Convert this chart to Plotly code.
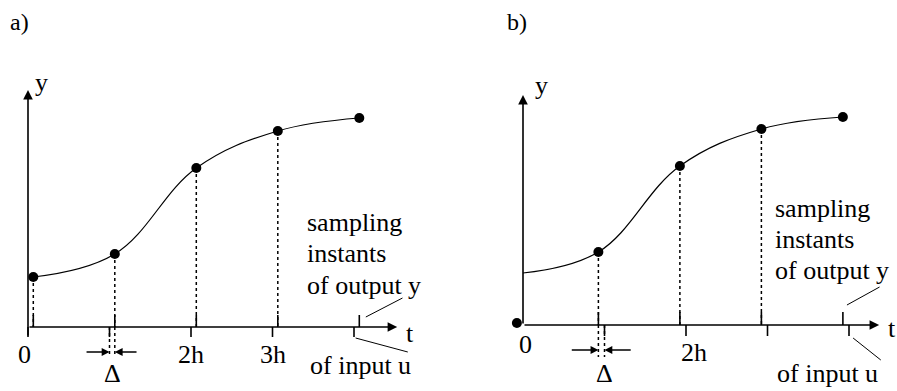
import plotly.graph_objects as go

# sampling instants of the input u, in units of h
t_input = [0, 1, 2, 3, 4]
# output sampled a little after (a) or a little before (b) the input
delta_a = 0.065
delta_b = -0.075
# sampled output values
y_a = [0.50, 0.73, 1.59, 1.96, 2.09]
y_b = [0.73, 1.59, 1.96, 2.08]
y_b_start = 0.52  # value of y at t = 0 in case b (curve start, no sample)
y_b_origin = 0.02  # sample taken at t = -delta, on the axis
tick_labels_a = ["0", "", "2h", "3h", ""]
tick_labels_b = ["0", "", "2h", "", ""]

t_out_a = [t + delta_a for t in t_input]
t_out_b = [t + delta_b for t in t_input[1:]]

W, H = 897, 391
SX = 81.5   # px per h
SY = 100.0  # px per unit of y
FONT = "Liberation Serif"
FS = 26

fig = go.Figure()

# curves and samples
fig.add_trace(go.Scatter(x=t_out_a, y=y_a, mode="lines", line=dict(color="black", width=1.2, shape="spline", smoothing=1.1),
                         xaxis="x", yaxis="y", hoverinfo="skip"))
fig.add_trace(go.Scatter(x=t_out_a, y=y_a, mode="markers", marker=dict(color="black", size=10),
                         xaxis="x", yaxis="y", hoverinfo="skip"))
fig.add_trace(go.Scatter(x=[0] + t_out_b, y=[y_b_start] + y_b, mode="lines",
                         line=dict(color="black", width=1.2, shape="spline", smoothing=1.1),
                         xaxis="x2", yaxis="y2", hoverinfo="skip"))
fig.add_trace(go.Scatter(x=[delta_b] + t_out_b, y=[y_b_origin] + y_b, mode="markers",
                         marker=dict(color="black", size=10),
                         xaxis="x2", yaxis="y2", hoverinfo="skip"))

shapes = []
ann = []


def line(xr, yr, x0, y0, x1, y1, dash="solid", width=1.6):
    shapes.append(dict(type="line", xref=xr, yref=yr, x0=x0, y0=y0, x1=x1, y1=y1,
                       line=dict(color="black", width=width, dash=dash)))


def arrow(xr, yr, x0, y0, x1, y1, width=1.6, size=1.2):
    ann.append(dict(xref=xr, yref=yr, axref=xr, ayref=yr, ax=x0, ay=y0, x=x1, y=y1, text="",
                    showarrow=True, arrowhead=2, arrowsize=size, arrowwidth=width, arrowcolor="black"))


def text(xr, yr, x, y, s, anchor="center"):
    ann.append(dict(xref=xr, yref=yr, x=x, y=y, text=s, showarrow=False, xanchor=anchor, yanchor="middle",
                    font=dict(family=FONT, size=FS, color="black")))


# ---- panel a ----
arrow("x", "y", 0, -0.10, 0, 2.37)          # y axis
arrow("x", "y", 0, 0, 4.53, 0)              # t axis
for t in t_out_a:
    line("x", "y", t, 0, t, 0.12)           # output instants
for t in t_input:
    line("x", "y", t, 0, t, -0.10)          # input instants
for t, v in zip(t_out_a[:4], y_a[:4]):
    line("x", "y", t, v, t, 0, dash="dot", width=1.5)
line("x", "y", t_input[1], 0, t_input[1], -0.30, dash="dot", width=1.5)
line("x", "y", t_out_a[1], 0, t_out_a[1], -0.30, dash="dot", width=1.5)
arrow("x", "y", 0.70, -0.25, t_input[1], -0.25, width=1.3, size=1.2)
arrow("x", "y", 1.35, -0.25, t_out_a[1], -0.25, width=1.3, size=1.2)
text("x", "y", 1.04, -0.46, "Δ")
for t, s in zip(t_input, tick_labels_a):
    if s:
        text("x", "y", t - 0.04 if t == 0 else t, -0.27, s)
text("x", "y", 4.69, -0.06, "t")
text("x", "y", 0.17, 2.45, "y")
for i, s in enumerate(["sampling", "instants", "of output y"]):
    text("x", "y", 3.40, 1.05 - 0.315 * i, s, anchor="left")
text("x", "y", 3.44, -0.38, "of input u", anchor="left")
line("x", "y", t_out_a[4] + 0.08, 0.10, t_out_a[4] + 0.53, 0.29, width=1)
line("x", "y", t_input[4] + 0.02, -0.11, t_input[4] + 0.66, -0.25, width=1)

# ---- panel b ----
arrow("x2", "y2", 0, 0, 0, 2.30)
arrow("x2", "y2", 0, 0, 4.37, 0)
for t in t_out_b:
    line("x2", "y2", t, 0, t, 0.13)
for t in t_input[1:]:
    line("x2", "y2", t, 0, t, -0.11)
for t, v in zip(t_out_b[:3], y_b[:3]):
    line("x2", "y2", t, v, t, 0, dash="dot", width=1.5)
line("x2", "y2", t_out_b[0], 0, t_out_b[0], -0.32, dash="dot", width=1.5)
line("x2", "y2", t_input[1], 0, t_input[1], -0.32, dash="dot", width=1.5)
arrow("x2", "y2", 0.58, -0.25, t_out_b[0], -0.25, width=1.3, size=1.2)
arrow("x2", "y2", 1.34, -0.25, t_input[1], -0.25, width=1.3, size=1.2)
text("x2", "y2", 1.0, -0.48, "Δ")
text("x2", "y2", 0.03, -0.19, tick_labels_b[0])
text("x2", "y2", 2.1, -0.27, tick_labels_b[2])
text("x2", "y2", 4.53, -0.03, "t")
text("x2", "y2", 0.23, 2.40, "y")
for i, s in enumerate(["sampling", "instants", "of output y"]):
    text("x2", "y2", 3.07, 1.17 - 0.31 * i, s, anchor="left")
text("x2", "y2", 3.09, -0.48, "of input u", anchor="left")
line("x2", "y2", t_out_b[3] + 0.05, 0.20, t_out_b[3] + 0.45, 0.38, width=1)
line("x2", "y2", t_input[4] + 0.05, -0.13, t_input[4] + 0.39, -0.35, width=1)

# panel letters
for x, s in [(19, "a)"), (517, "b)")]:
    ann.append(dict(xref="paper", yref="paper", x=x / W, y=1 - 22 / H, text=s, showarrow=False,
                    xanchor="center", yanchor="middle",
                    font=dict(family=FONT, size=FS - 2, color="black")))

split = 448 / W
fig.update_layout(
    width=W, height=H, margin=dict(l=0, r=0, t=0, b=0),
    paper_bgcolor="white", plot_bgcolor="white", showlegend=False,
    xaxis=dict(domain=[0, split], range=[-28 / SX, 420 / SX], visible=False),
    yaxis=dict(domain=[0, 1], range=[(327 - H) / SY, 327 / SY], visible=False),
    xaxis2=dict(domain=[split, 1], range=[-75 / SX, 374 / SX], visible=False, anchor="y2"),
    yaxis2=dict(domain=[0, 1], range=[(325 - H) / SY, 325 / SY], visible=False, anchor="x2"),
    shapes=shapes, annotations=ann,
)

fig.write_html("out.html", config={"displayModeBar": False},
               post_script="document.body.style.margin='0';")
